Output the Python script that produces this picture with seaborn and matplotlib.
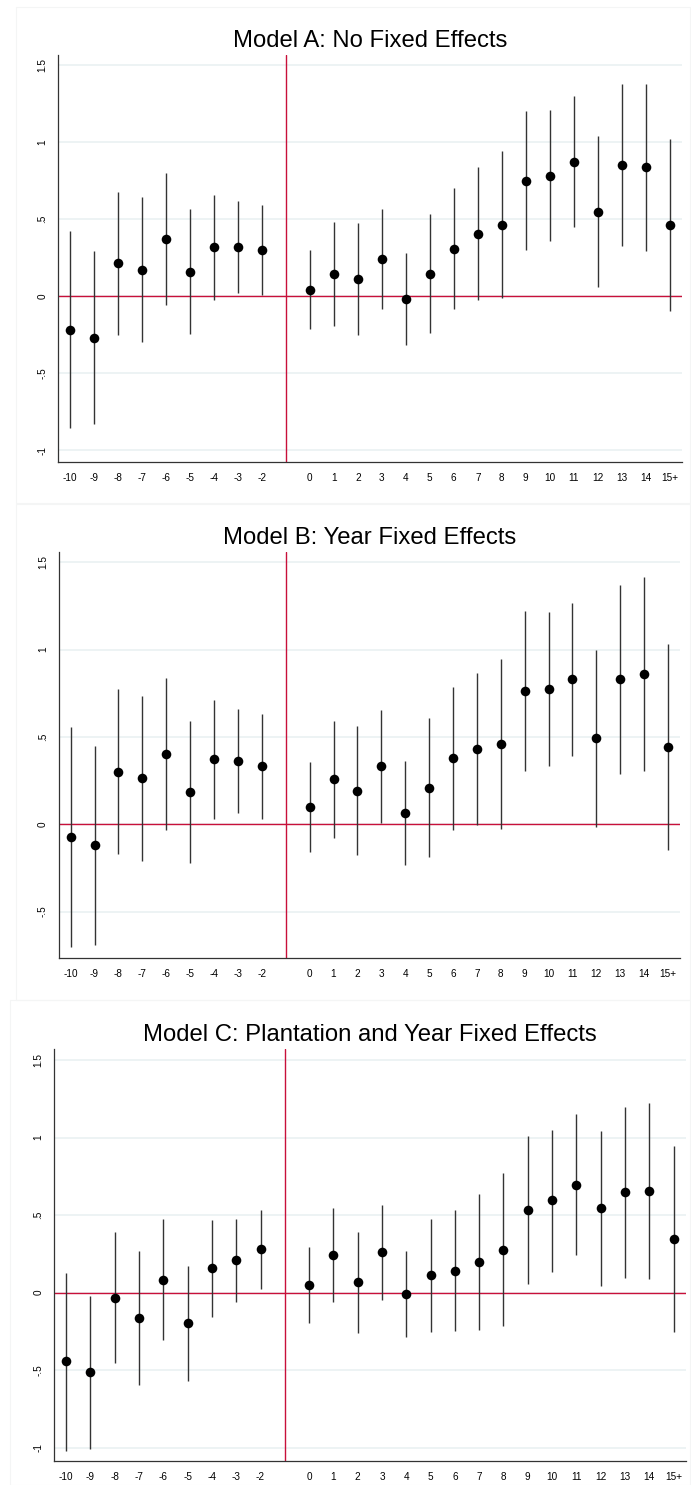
import numpy as np
import pandas as pd
import matplotlib
matplotlib.use("Agg")
import matplotlib.pyplot as plt
import seaborn as sns

# event time relative to adoption (-1 omitted, 15 means 15+)
event_time = [-10, -9, -8, -7, -6, -5, -4, -3, -2,
              0, 1, 2, 3, 4, 5, 6, 7, 8, 9, 10, 11, 12, 13, 14, 15]
tick_labels = ["-10", "-9", "-8", "-7", "-6", "-5", "-4", "-3", "-2",
               "0", "1", "2", "3", "4", "5", "6", "7", "8", "9", "10",
               "11", "12", "13", "14", "15+"]

# Model A: no fixed effects
coef_a = [-0.217, -0.269, 0.214, 0.173, 0.372, 0.160, 0.318, 0.318, 0.301,
          0.043, 0.145, 0.112, 0.244, -0.020, 0.147, 0.307, 0.405, 0.465,
          0.751, 0.783, 0.872, 0.549, 0.851, 0.838, 0.461]
hi_a = [0.426, 0.294, 0.677, 0.643, 0.801, 0.565, 0.658, 0.619, 0.591,
        0.301, 0.482, 0.478, 0.567, 0.279, 0.536, 0.701, 0.840, 0.944,
        1.201, 1.212, 1.299, 1.041, 1.377, 1.377, 1.021]
lo_a = [-0.857, -0.829, -0.251, -0.299, -0.054, -0.243, -0.022, 0.021, 0.008,
        -0.214, -0.191, -0.251, -0.080, -0.318, -0.240, -0.084, -0.024, -0.013,
        0.303, 0.359, 0.448, 0.058, 0.327, 0.296, -0.095]

# Model B: year fixed effects
coef_b = [-0.075, -0.120, 0.302, 0.262, 0.405, 0.185, 0.373, 0.363, 0.331,
          0.101, 0.258, 0.193, 0.331, 0.063, 0.210, 0.378, 0.430, 0.461,
          0.764, 0.776, 0.829, 0.495, 0.829, 0.860, 0.445]
hi_b = [0.554, 0.449, 0.776, 0.732, 0.839, 0.594, 0.713, 0.661, 0.631,
        0.354, 0.594, 0.562, 0.655, 0.363, 0.610, 0.785, 0.866, 0.948,
        1.219, 1.215, 1.269, 0.999, 1.372, 1.414, 1.032]
lo_b = [-0.701, -0.690, -0.168, -0.208, -0.032, -0.220, 0.032, 0.067, 0.031,
        -0.157, -0.076, -0.174, 0.006, -0.235, -0.187, -0.031, -0.004, -0.027,
        0.304, 0.336, 0.392, -0.013, 0.290, 0.306, -0.145]

# Model C: plantation and year fixed effects
coef_c = [-0.444, -0.515, -0.032, -0.162, 0.084, -0.198, 0.157, 0.209, 0.280,
          0.050, 0.244, 0.067, 0.263, -0.009, 0.112, 0.142, 0.198, 0.278,
          0.532, 0.595, 0.696, 0.545, 0.647, 0.659, 0.347]
hi_c = [0.127, -0.022, 0.390, 0.269, 0.478, 0.172, 0.470, 0.476, 0.534,
        0.293, 0.545, 0.394, 0.567, 0.267, 0.476, 0.534, 0.638, 0.769,
        1.009, 1.052, 1.153, 1.045, 1.196, 1.226, 0.948]
lo_c = [-1.019, -1.009, -0.453, -0.593, -0.306, -0.567, -0.157, -0.062, 0.024,
        -0.196, -0.058, -0.261, -0.045, -0.287, -0.254, -0.248, -0.239, -0.213,
        0.058, 0.134, 0.241, 0.045, 0.097, 0.091, -0.252]

titles = ["Model A: No Fixed Effects",
          "Model B: Year Fixed Effects",
          "Model C: Plantation and Year Fixed Effects"]

sns.set_style("white")
plt.rcParams['font.family'] = ['Liberation Sans', 'DejaVu Sans']

RED = '#c8103a'
W, H = 691, 1485

fig = plt.figure(figsize=(W / 100, H / 100), dpi=100)

# pixel boxes: left, right, top, bottom
boxes = [(58, 681.7, 55, 462), (58.7, 680, 552.3, 957.7), (54, 685.7, 1049.3, 1461)]
frames = [(15.5, 690, 7, 503), (15.5, 690, 504, 1000), (10, 690, 1000, 1485)]
ylims = [(-1.076, 1.567), (-0.764, 1.557), (-1.086, 1.570)]
yticks = [[-1, -0.5, 0, 0.5, 1, 1.5], [-0.5, 0, 0.5, 1, 1.5], [-1, -0.5, 0, 0.5, 1, 1.5]]
ytick_txt = {-1: "-1", -0.5: "-.5", 0: "0", 0.5: ".5", 1: "1", 1.5: "1.5"}

models = [(coef_a, lo_a, hi_a), (coef_b, lo_b, hi_b), (coef_c, lo_c, hi_c)]

for i, (coef, lo, hi) in enumerate(models):
    # faint graph region border
    fl, fr, ft, fb = frames[i]
    fig.patches.append(plt.Rectangle((fl / W, 1 - fb / H), (fr - fl) / W, (fb - ft) / H,
                                     transform=fig.transFigure, fill=False,
                                     edgecolor='#f4f5f5', linewidth=0.8))

    l, r, t, b = boxes[i]
    ax = fig.add_axes([l / W, 1 - b / H, (r - l) / W, (b - t) / H])
    df = pd.DataFrame({"t": event_time, "coef": coef, "lo": lo, "hi": hi})

    for yv in yticks[i]:
        ax.axhline(yv, color='#eaf1f2', linewidth=1.2, zorder=0)
    ax.axhline(0, color=RED, linewidth=1.0, zorder=1)
    ax.axvline(-1, color=RED, linewidth=1.0, zorder=1)

    ax.vlines(df["t"], df["lo"], df["hi"], color='#333333', linewidth=1.0, zorder=2)
    sns.scatterplot(data=df, x="t", y="coef", ax=ax, color='black', s=48,
                    edgecolor='black', linewidth=0, zorder=3)

    ax.set_xlim(-10.5, 15.5)
    ax.set_ylim(*ylims[i])
    ax.set_xticks(event_time)
    ax.set_xticklabels(tick_labels)
    ax.set_yticks(yticks[i])
    ax.set_yticklabels([ytick_txt[v] for v in yticks[i]], rotation=90, va='center')
    ax.set_xlabel("")
    ax.set_ylabel("")
    ax.tick_params(axis='both', length=3.8, width=0.8, colors='#333333', labelsize=7.2,
                   labelcolor='black')
    ax.tick_params(axis='x', pad=4)
    ax.tick_params(axis='y', pad=4)
    for side in ['top', 'right']:
        ax.spines[side].set_visible(False)
    for side in ['left', 'bottom']:
        ax.spines[side].set_color('#333333')
        ax.spines[side].set_linewidth(0.9)
    ax.set_title(titles[i], fontsize=17.2, pad=6, color='black')

fig.savefig("out.png", dpi=100)
